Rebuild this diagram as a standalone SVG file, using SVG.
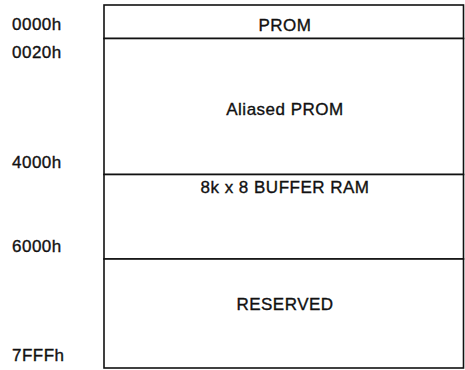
<svg xmlns="http://www.w3.org/2000/svg" width="465" height="370" viewBox="0 0 465 370">
<style>
text{font-family:"Liberation Sans",Arial,sans-serif;font-size:17px;fill:#111;stroke:#111;stroke-width:0.35;letter-spacing:0.5px}
.c{text-anchor:middle}
.b{fill:#fff;stroke:#111;stroke-width:1.6}
</style>
<rect width="465" height="370" fill="#fff"/>
<g id="addresses">
<text x="12" y="30">0000h</text>
<text x="12" y="58">0020h</text>
<text x="12" y="168">4000h</text>
<text x="12" y="252">6000h</text>
<text x="12" y="361">7FFFh</text>
</g>
<g id="prom"><rect class="b" x="104" y="5" width="359.5" height="33.5"/><text class="c" x="285" y="30.5">PROM</text></g>
<g id="aliased-prom"><rect class="b" x="104" y="38.5" width="359.5" height="136"/><text class="c" x="285" y="115">Aliased PROM</text></g>
<g id="buffer-ram"><rect class="b" x="104" y="174.5" width="359.5" height="84.5"/><text class="c" x="285" y="193">8k x 8 BUFFER RAM</text></g>
<g id="reserved"><rect class="b" x="104" y="259" width="359.5" height="109"/><text class="c" x="285" y="310">RESERVED</text></g>
<g id="connectors"></g>
</svg>
